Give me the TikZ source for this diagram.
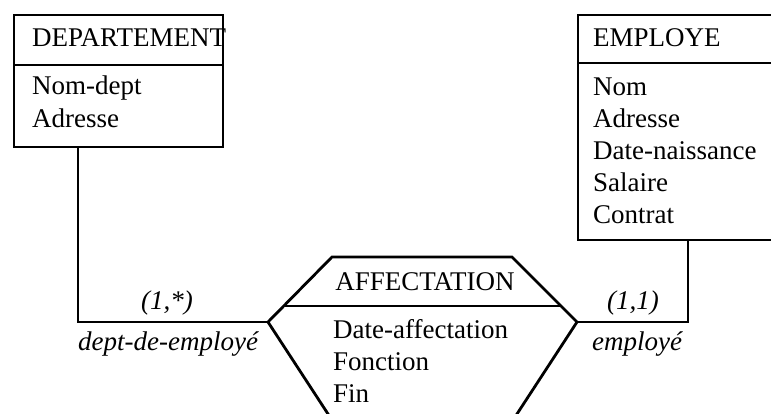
\documentclass[tikz,border=0pt]{standalone}
\usepackage{fontspec}
\setmainfont{Liberation Serif}
\begin{document}
\begin{tikzpicture}[x=1pt,y=-1pt,
  box/.style={draw, line width=2pt, inner sep=0pt, anchor=north west},
  txt/.style={font=\fontsize{27}{32}\selectfont, inner sep=0pt, anchor=base west},
  lbl/.style={font=\fontsize{27}{32}\selectfont\itshape, inner sep=0pt, anchor=base},
  link/.style={line width=2.2pt, line join=miter},
  hexa/.style={line width=2.8pt, line join=miter}]
\useasboundingbox (0,0) rectangle (771,414);
\clip (0,0) rectangle (771,414);

% entity DEPARTEMENT
\node[box, minimum width=209pt, minimum height=50pt] (dhead) at (13,14) {};
\node[box, minimum width=209pt, minimum height=82pt] (dbody) at (13,64) {};
\node[txt] (dname) at (32,47) {DEPARTEMENT};
\node[txt] (da1) at (32,95) {Nom-dept};
\node[txt] (da2) at (32,128) {Adresse};

% entity EMPLOYE
\node[box, minimum width=220pt, minimum height=48pt] (ehead) at (577,14) {};
\node[box, minimum width=220pt, minimum height=177pt] (ebody) at (577,62) {};
\node[txt] (ename) at (593,47) {EMPLOYE};
\node[txt] (ea1) at (593,96) {Nom};
\node[txt] (ea2) at (593,128) {Adresse};
\node[txt] (ea3) at (593,160) {Date-naissance};
\node[txt] (ea4) at (593,192) {Salaire};
\node[txt] (ea5) at (593,224) {Contrat};

% association AFFECTATION (hexagon)
\coordinate (hl) at (268,322);
\coordinate (htl) at (332,257);
\coordinate (htr) at (512,257);
\coordinate (hr) at (577,322);
\coordinate (hbr) at (500,440);
\coordinate (hbl) at (345,440);
\coordinate (hdl) at (284,306);
\coordinate (hdr) at (561,306);
\draw[hexa] (hbl) -- (hl) -- (htl) -- (htr) -- (hr) -- (hbr);
\draw[hexa] (hdl) -- (hdr);
\node[txt, anchor=base] (aname) at (425,290) {AFFECTATION};
\node[txt] (aa1) at (333,338) {Date-affectation};
\node[txt] (aa2) at (333,370) {Fonction};
\node[txt] (aa3) at (333,402) {Fin};

% roles
\coordinate (dturn) at (78,322);
\coordinate (eturn) at (688,322);
\draw[link] (dbody.south -| dturn) -- (dturn) -- (hl);
\draw[link] (ebody.south -| eturn) -- (eturn) -- (hr);
\node[lbl] (card1) at (167,309) {(1,*)};
\node[lbl, anchor=base west] (role1) at (78,350) {dept-de-employé};
\node[lbl] (card2) at (633,309) {(1,1)};
\node[lbl] (role2) at (637,350) {employé};
\end{tikzpicture}
\end{document}
